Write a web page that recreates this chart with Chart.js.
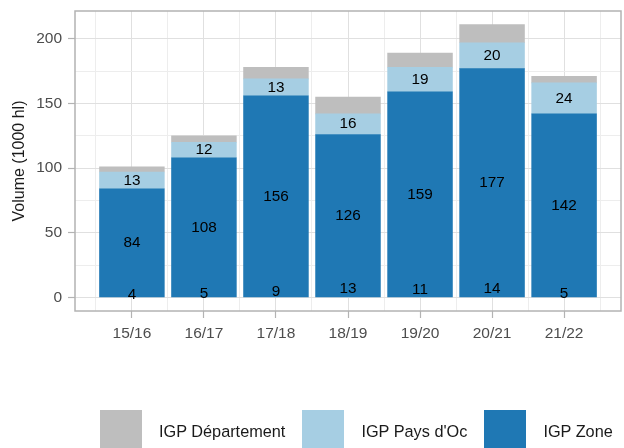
<!DOCTYPE html>
<html><head><meta charset="utf-8">
<script src="https://cdn.jsdelivr.net/npm/chart.js@4/dist/chart.umd.min.js"></script>
<style>
html,body{margin:0;padding:0;background:#fff;overflow:hidden;}
#wrap{position:relative;width:624px;height:448px;overflow:hidden;}
#legend{position:absolute;left:100px;top:410px;display:flex;align-items:center;font-family:'Liberation Sans',Arial,sans-serif;font-size:16.3px;color:#1a1a1a;}
.key{width:42px;height:42px;margin-right:17px;flex:none;}
.lab{margin-right:17px;white-space:nowrap;line-height:42px;}
</style></head><body>
<div id="wrap"><canvas id="c" width="624" height="448"></canvas><div id="legend"></div></div>
<script>
const categories = ['15/16','16/17','17/18','18/19','19/20','20/21','21/22'];
const igpZone = [84,108,156,126,159,177,142];
const igpPaysOc = [13,12,13,16,19,20,24];
const igpDepartement = [4,5,9,13,11,14,5];
const seriesNames = ['IGP Zone',"IGP Pays d'Oc",'IGP Département'];
const seriesColors = ['#1f78b4','#a6cee3','#bebebe'];
const yTickValues = [0,50,100,150,200];
const yTitle = 'Volume (1000 hl)';

const FONT = "'Liberation Sans', Arial, sans-serif";
Chart.defaults.font.family = FONT;

// bar width = 90% of one category step, measured on the x scale
const barWidth = ctx => {
  const x = ctx.chart.scales && ctx.chart.scales.x;
  if (!x || !x.width) return undefined;
  return 0.9 * Math.abs(x.getPixelForValue(1) - x.getPixelForValue(0));
};

const seriesData = [igpZone, igpPaysOc, igpDepartement];
const datasets = seriesData.map((arr, s) => ({
  label: seriesNames[s],
  data: arr.map((v, i) => ({x: i, y: v})),
  backgroundColor: seriesColors[s],
  borderWidth: 0,
  barThickness: barWidth
}));

// HTML legend (reverse order, as in reference)
const legendEl = document.getElementById('legend');
[2,1,0].forEach(s => {
  const k = document.createElement('div'); k.className='key'; k.style.background = seriesColors[s];
  const t = document.createElement('div'); t.className='lab'; t.textContent = seriesNames[s];
  legendEl.appendChild(k); legendEl.appendChild(t);
});

const isMajorX = c => !!(c && c.tick && Number.isInteger(c.tick.value));
const isMajorY = c => !!(c && c.tick && yTickValues.includes(c.tick.value));

const labelPlugin = {
  id: 'barLabels',
  afterDatasetsDraw(chart) {
    const {ctx, scales: {x, y}} = chart;
    ctx.save();
    ctx.font = '15.3px ' + FONT;
    ctx.fillStyle = '#000';
    ctx.textAlign = 'center';
    ctx.textBaseline = 'middle';
    categories.forEach((c, i) => {
      const px = x.getPixelForValue(i);
      ctx.fillText(String(igpZone[i]), px, y.getPixelForValue(igpZone[i] / 2));
      ctx.fillText(String(igpPaysOc[i]), px, y.getPixelForValue(igpZone[i] + igpPaysOc[i] / 2));
      ctx.fillText(String(igpDepartement[i]), px, y.getPixelForValue(igpDepartement[i] / 2));
    });
    ctx.restore();
  }
};
const borderPlugin = {
  id: 'panelBorder',
  afterDraw(chart) {
    const {ctx, chartArea: a} = chart;
    ctx.save();
    ctx.strokeStyle = '#b3b3b3';
    ctx.lineWidth = 1.5;
    ctx.strokeRect(a.left, a.top, a.right - a.left, a.bottom - a.top);
    ctx.restore();
  }
};

new Chart(document.getElementById('c'), {
  type: 'bar',
  data: {datasets},
  plugins: [labelPlugin, borderPlugin],
  options: {
    responsive: false,
    animation: false,
    layout: {padding: {left: 0, right: 3, top: 11, bottom: 0}},
    plugins: {legend: {display: false}, tooltip: {enabled: false}},
    scales: {
      x: {
        type: 'linear',
        stacked: true,
        offset: false,
        min: -0.79, max: 6.79,
        border: {display: false},
        grid: {
          offset: false,
          color: c => isMajorX(c) ? '#e0e0e0' : '#ededed',
          lineWidth: 1,
          tickLength: 7,
          tickColor: c => isMajorX(c) ? '#b3b3b3' : 'rgba(0,0,0,0)',
          tickWidth: 1.2
        },
        ticks: {
          stepSize: 0.5,
          includeBounds: false,
          autoSkip: false,
          maxRotation: 0,
          padding: 6,
          color: '#4d4d4d',
          font: {size: 15.5},
          callback: v => Number.isInteger(v) && categories[v] !== undefined ? categories[v] : ''
        },
        afterFit: s => { s.height = 137; s.paddingLeft = 0; s.paddingRight = 0; }
      },
      y: {
        stacked: true,
        min: -10.55, max: 221.55,
        border: {display: false},
        grid: {
          color: c => isMajorY(c) ? '#e0e0e0' : '#ededed',
          lineWidth: 1,
          tickLength: 7,
          tickColor: c => isMajorY(c) ? '#b3b3b3' : 'rgba(0,0,0,0)',
          tickWidth: 1.2
        },
        ticks: {
          stepSize: 25,
          includeBounds: false,
          padding: 6,
          color: '#4d4d4d',
          font: {size: 15.5},
          callback: v => yTickValues.includes(v) ? String(v) : ''
        },
        title: {display: true, text: yTitle, color: '#1a1a1a', font: {size: 16}, padding: {top: 10, bottom: 0}},
        afterFit: s => { s.width = 75; s.paddingTop = 0; s.paddingBottom = 0; }
      }
    }
  }
});
</script>
</body></html>
